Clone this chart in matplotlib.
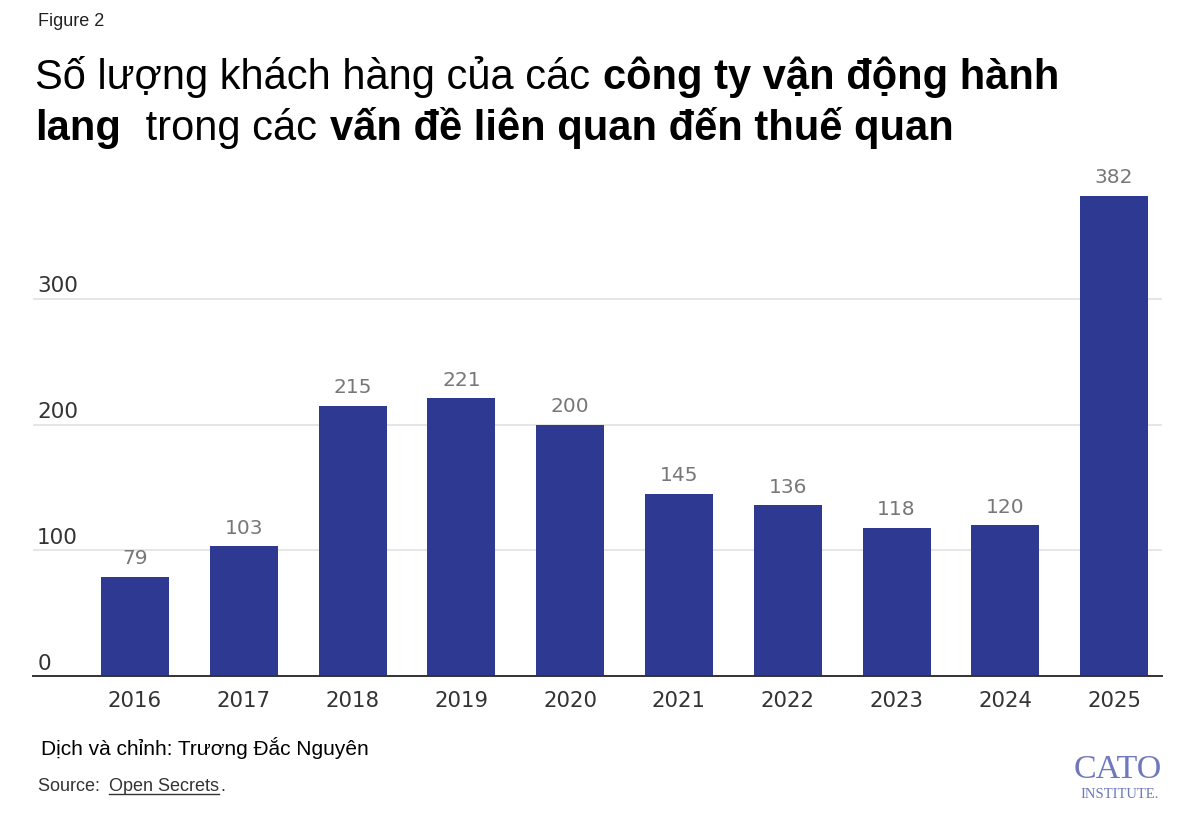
import numpy as np
import matplotlib.pyplot as plt
from matplotlib.lines import Line2D

plt.rcParams['font.family'] = ['Liberation Sans', 'DejaVu Sans']

# data
years = ['2016', '2017', '2018', '2019', '2020', '2021', '2022', '2023', '2024', '2025']
clients = [79, 103, 215, 221, 200, 145, 136, 118, 120, 382]
yticks = [0, 100, 200, 300]

BAR = '#2e3a92'
NUM = 'DejaVu Sans'
W, H = 1200, 823

fig = plt.figure(figsize=(12, 8.23), dpi=100)
ax = fig.add_axes([33 / W, 1 - 676 / H, (1162 - 33) / W, (676 - 173) / H])

x = np.arange(len(years))
bars = ax.bar(x, clients, width=0.625, color=BAR, zorder=3)
ax.bar_label(bars, padding=6, color='#777777', fontsize=14.5, family=NUM)

ax.set_xlim(-0.9375, 9.44)
ax.set_ylim(0, 400)
ax.set_xticks(x, years, family=NUM)
ax.tick_params(axis='x', length=0, pad=10.5, labelsize=15.3, labelcolor='#333333')
ax.set_yticks(yticks)
ax.tick_params(axis='y', length=0, labelleft=False)
ax.grid(axis='y', color='#e2e2e2', linewidth=1.2, zorder=0)
for s in ['top', 'right', 'left']:
    ax.spines[s].set_visible(False)
ax.spines['bottom'].set_color('#333333')
ax.spines['bottom'].set_linewidth(1.4)
ax.spines['bottom'].set_zorder(4)

for t in yticks:
    ax.annotate(str(t), xy=(0, t), xycoords=('axes fraction', 'data'),
                xytext=(3, 4.5), textcoords='offset points',
                ha='left', va='baseline', fontsize=15.5, family=NUM,
                color='#333333')

# header
fig.text(38 / W, 1 - 22 / H, 'Figure 2', fontsize=13, color='#222222',
         va='center', ha='left')

renderer = fig.canvas.get_renderer()


def write_line(pieces, x0, y0, size, gap):
    xp = x0
    for txt, weight in pieces:
        t = fig.text(xp / W, 1 - y0 / H, txt, fontsize=size, fontweight=weight,
                     color='black', ha='left', va='baseline')
        bb = t.get_window_extent(renderer)
        xp = bb.x1 + gap
    return xp


write_line([('Số lượng khách hàng của các', 'normal'),
            ('công ty vận động hành', 'bold')], 35, 89, 30, 13)
write_line([('lang', 'bold'), (' trong các', 'normal'),
            ('vấn đề liên quan đến thuế quan', 'bold')], 35, 140, 30, 13)

# footer
fig.text(41 / W, 1 - 748 / H, 'Dịch và chỉnh: Trương Đắc Nguyên', fontsize=15,
         color='black', va='center', ha='left')
t1 = fig.text(38 / W, 1 - 791 / H, 'Source: ', fontsize=13, color='#333333',
              va='baseline', ha='left')
b1 = t1.get_window_extent(renderer)
t2 = fig.text((b1.x1 + 4) / W, 1 - 791 / H, 'Open Secrets', fontsize=13,
              color='#333333', va='baseline', ha='left')
b2 = t2.get_window_extent(renderer)
fig.add_artist(Line2D([b2.x0 / W, b2.x1 / W], [(H - 794) / H] * 2,
                      color='#333333', linewidth=1, transform=fig.transFigure))
fig.text((b2.x1 + 1) / W, 1 - 791 / H, '.', fontsize=13, color='#333333',
         va='baseline', ha='left')

# logo
fig.text(1118 / W, 1 - 770 / H, 'CATO', fontsize=24.5, family='Liberation Serif',
         color='#6f78bd', ha='center', va='center')
fig.text(1120 / W, 1 - 794 / H, 'INSTITUTE.', fontsize=10.5, family='Liberation Serif',
         color='#6f78bd', ha='center', va='center')

fig.savefig('out.png', dpi=100, facecolor='white')
